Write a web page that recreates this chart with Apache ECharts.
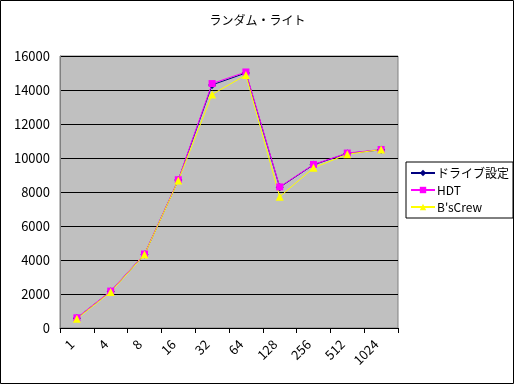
<!DOCTYPE html>
<html><head><meta charset="utf-8">
<script src="https://cdn.jsdelivr.net/npm/echarts@6/dist/echarts.min.js"></script>
<style>html,body{margin:0;padding:0;background:#fff}#c{width:515px;height:385px}</style>
</head><body><div id="c"></div>
<script>
const categories = ['1','4','8','16','32','64','128','256','512','1024'];
const driveSetting = [580, 2150, 4330, 8700, 14300, 15000, 8280, 9600, 10270, 10480];
const hdt = [600, 2170, 4350, 8720, 14380, 15060, 8300, 9620, 10290, 10500];
const bsCrew = [550, 2120, 4320, 8680, 13740, 14880, 7720, 9420, 10220, 10500];
const seriesNames = ['ドライブ設定', 'HDT', "B'sCrew"];
const yTicks = {min: 0, max: 16000, interval: 2000};

const font = '"MS PGothic","Noto Sans CJK JP",sans-serif';
const chart = echarts.init(document.getElementById('c'), null, {renderer: 'canvas'});
chart.setOption({
  animation: false,
  backgroundColor: '#fff',
  title: {text: 'ランダム・ライト', left: 'center', top: 9,
    textStyle: {fontSize: 12, fontWeight: 'normal', color: '#000', fontFamily: font}},
  grid: {left: 60, right: 117, top: 56, bottom: 57, show: true,
    backgroundColor: '#c0c0c0', borderColor: '#808080', borderWidth: 1},
  legend: {
    orient: 'vertical', left: 406, top: 162, width: 104, height: 58,
    backgroundColor: '#fff', borderColor: '#000', borderWidth: 1,
    padding: [5, 4, 5, 4], itemGap: 5, itemWidth: 24, itemHeight: 8,
    textStyle: {fontSize: 12, color: '#000', fontFamily: font, padding: [0,0,0,-3]},
    data: seriesNames
  },
  xAxis: {
    type: 'category', data: categories, boundaryGap: true,
    axisLine: {lineStyle: {color: '#000', width: 1}},
    axisTick: {show: true, interval: 0, length: 5, lineStyle: {color: '#000'}},
    axisLabel: {rotate: 45, interval: 0, fontSize: 13, color: '#000', fontFamily: font,
      margin: 9, padding: [0, 7, 0, 0]}
  },
  yAxis: {
    type: 'value', min: yTicks.min, max: yTicks.max, interval: yTicks.interval,
    axisLine: {show: true, lineStyle: {color: '#808080'}},
    axisTick: {show: false},
    splitLine: {lineStyle: {color: '#000', width: 1}},
    axisLabel: {fontSize: 13, color: '#000', fontFamily: font, margin: 10,
      formatter: v => String(v)}
  },
  graphic: [{type: 'rect', shape: {x: 0.5, y: 0.5, width: 513, height: 383},
    style: {fill: 'none', stroke: '#000', lineWidth: 1}, z: 100}],
  series: [
    {name: seriesNames[0], type: 'line', data: driveSetting, symbol: 'diamond', symbolSize: 8,
      itemStyle: {color: '#000080'}, lineStyle: {color: '#000080', width: 1}},
    {name: seriesNames[1], type: 'line', data: hdt, symbol: 'rect', symbolSize: 7,
      itemStyle: {color: '#ff00ff'}, lineStyle: {color: '#ff00ff', width: 1}},
    {name: seriesNames[2], type: 'line', data: bsCrew, symbol: 'triangle', symbolSize: 8,
      itemStyle: {color: '#ffff00'}, lineStyle: {color: '#ffff00', width: 1}}
  ]
});
</script></body></html>
